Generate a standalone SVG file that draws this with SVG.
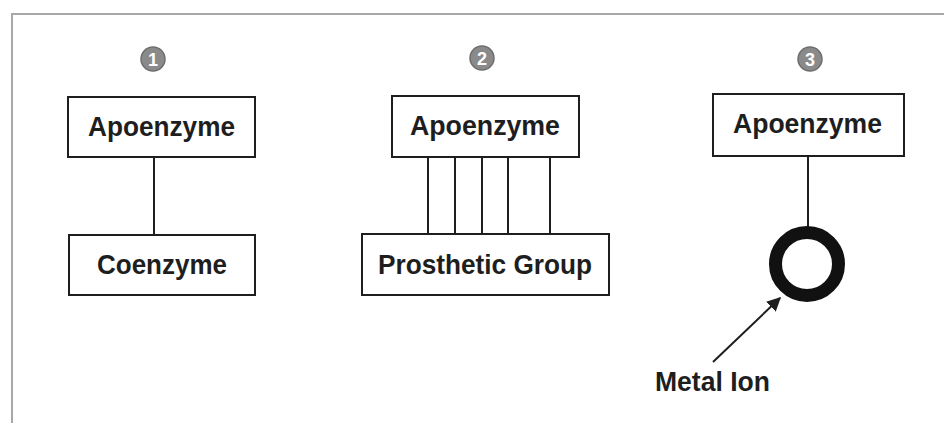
<svg xmlns="http://www.w3.org/2000/svg" width="944" height="423" viewBox="0 0 944 423">
  <style>
    .box { fill: #ffffff; stroke: #1e1e1e; stroke-width: 2; }
    .lbl { font-family: "Liberation Sans", Arial, sans-serif; font-weight: bold; font-size: 27px; fill: #1e1e1e; text-anchor: middle; }
    .num circle { fill: #8a8a8a; stroke: #6e6e6e; stroke-width: 1.5; }
    .num text { font-family: "Liberation Sans", Arial, sans-serif; font-weight: bold; font-size: 18px; fill: #ffffff; text-anchor: middle; }
    .conn line { stroke: #1e1e1e; stroke-width: 2; }
    .frame { stroke: #a8a8a8; stroke-width: 2; fill: none; }
  </style>
  <defs>
    <marker id="arrow" viewBox="0 0 10 10" refX="9" refY="5" markerWidth="7" markerHeight="7" markerUnits="strokeWidth" orient="auto">
      <path d="M0,0 L10,5 L0,10 z" fill="#1e1e1e"/>
    </marker>
  </defs>
  <rect width="944" height="423" fill="#ffffff"/>
  <path class="frame" d="M944,14 L12,14 L12,423"/>

  <g id="num1" class="num"><circle cx="153" cy="59" r="12"/><text x="153" y="65.5">1</text></g>
  <g id="num2" class="num"><circle cx="482" cy="58" r="12"/><text x="482" y="64.5">2</text></g>
  <g id="num3" class="num"><circle cx="810" cy="59" r="12"/><text x="810" y="65.5">3</text></g>

  <g id="connectors" class="conn">
    <line x1="154" y1="157" x2="154" y2="235"/>
    <line x1="428" y1="157" x2="428" y2="234"/>
    <line x1="455" y1="157" x2="455" y2="234"/>
    <line x1="482" y1="157" x2="482" y2="234"/>
    <line x1="508" y1="157" x2="508" y2="234"/>
    <line x1="550" y1="157" x2="550" y2="234"/>
    <line x1="808" y1="156" x2="808" y2="228"/>
    <line x1="713" y1="362" x2="780" y2="298" marker-end="url(#arrow)"/>
  </g>

  <g id="apo1">
    <rect class="box" x="68" y="97" width="187" height="60"/>
    <text class="lbl" x="161.5" y="136" textLength="147" lengthAdjust="spacingAndGlyphs">Apoenzyme</text>
  </g>
  <g id="coenzyme">
    <rect class="box" x="69" y="235" width="186" height="60"/>
    <text class="lbl" x="162" y="274" textLength="130" lengthAdjust="spacingAndGlyphs">Coenzyme</text>
  </g>
  <g id="apo2">
    <rect class="box" x="392" y="96" width="187" height="61"/>
    <text class="lbl" x="485" y="135" textLength="150" lengthAdjust="spacingAndGlyphs">Apoenzyme</text>
  </g>
  <g id="prosthetic">
    <rect class="box" x="362" y="234" width="247" height="61"/>
    <text class="lbl" x="485" y="274" textLength="214" lengthAdjust="spacingAndGlyphs">Prosthetic Group</text>
  </g>
  <g id="apo3">
    <rect class="box" x="713" y="94" width="191" height="62"/>
    <text class="lbl" x="807.5" y="133" textLength="149" lengthAdjust="spacingAndGlyphs">Apoenzyme</text>
  </g>
  <g id="metal-ion">
    <circle cx="807" cy="264" r="31.5" fill="none" stroke="#111111" stroke-width="13"/>
  </g>
  <g id="metal-ion-label">
    <text class="lbl" x="712.5" y="391" textLength="115" lengthAdjust="spacingAndGlyphs">Metal Ion</text>
  </g>
</svg>
